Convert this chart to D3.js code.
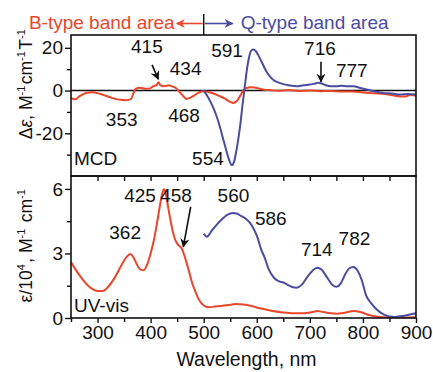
<!DOCTYPE html>
<html>
<head>
<meta charset="utf-8">
<script src="https://cdn.jsdelivr.net/npm/d3@7"></script>
<style>
  html, body { margin: 0; padding: 0; background: #fff; }
  svg text { font-family: "Liberation Sans", Arial, sans-serif; fill: #111; }
</style>
</head>
<body>
<svg id="chart" width="433" height="372"></svg>
<script>
// ---- MCD spectrum (Δε, M^-1 cm^-1 T^-1) ----
const mcdBWl  = [250, 258, 267, 280, 290, 300, 310, 322, 333, 343, 353, 363, 368, 372, 380, 390, 398, 405, 411, 415, 418, 424, 430, 434, 440, 447, 455, 462, 468, 475, 483, 492, 500, 510, 520, 530, 540, 550, 556, 562, 568, 575, 581, 588, 596, 605, 615, 625, 640, 660, 680, 700, 720, 740, 760, 780, 800, 820, 840, 860, 880, 890, 900];
const mcdBVal = [-3.6, -4.1, -2.5, -1.0, -0.8, -1.2, -2.0, -3.0, -3.9, -4.3, -4.5, -4.0, -1.0, 0.8, 1.3, 0.8, 0.9, 2.0, 2.5, 3.9, 2.6, 2.0, 2.2, 2.5, 2.0, 1.3, -0.8, -2.8, -3.9, -3.3, -2.2, -0.8, -0.3, -0.8, -1.5, -2.6, -3.8, -5.3, -5.8, -5.0, -2.8, 0.2, 1.2, 1.6, 1.4, 0.9, 0.4, 0.2, -0.1, 0.2, -0.2, 0.0, -0.3, -0.2, -0.5, -0.4, -0.9, -1.3, -1.6, -2.4, -2.8, -2.0, -2.6];

const mcdQWl  = [500, 508, 518, 525, 531, 537, 543, 548, 553, 557, 561, 565, 569, 573, 577, 581, 585, 589, 593, 598, 604, 610, 618, 625, 632, 640, 650, 660, 675, 688, 700, 710, 716, 722, 730, 740, 750, 760, 770, 782, 795, 807, 820, 838, 855, 870, 885, 900];
const mcdQVal = [0, -3, -8, -12.5, -17.4, -23, -28.4, -32.5, -34.9, -33.5, -29, -23, -16, -7, 1, 9, 15, 18.5, 19.2, 18.5, 16, 13, 9, 6.5, 4.8, 3.8, 3.0, 2.5, 2.0, 2.5, 2.8, 3.3, 3.6, 3.3, 2.5, 2.0, 2.0, 2.3, 2.0, 2.0, 1.2, 0.5, -0.3, -1.1, -1.4, -1.9, -1.6, -1.9];

// ---- UV-vis spectrum (ε/10^4, M^-1 cm^-1) ----
const uvBWl  = [250, 260, 270, 280, 290, 300, 310, 320, 333, 345, 355, 362, 368, 375, 381, 387, 393, 400, 406, 412, 418, 422, 425, 428, 432, 437, 442, 447, 452, 458, 463, 468, 473, 478, 484, 490, 496, 502, 510, 520, 535, 550, 560, 575, 590, 606, 625, 649, 670, 690, 705, 714, 725, 740, 750, 765, 782, 795, 810, 825, 840, 860, 880, 900];
const uvBVal = [2.6, 2.2, 1.85, 1.55, 1.35, 1.25, 1.25, 1.45, 1.9, 2.45, 2.85, 2.98, 2.8, 2.45, 2.25, 2.22, 2.45, 3.0, 3.6, 4.4, 5.3, 5.8, 5.98, 5.85, 5.3, 4.6, 4.0, 3.6, 3.4, 3.25, 2.95, 2.55, 2.1, 1.65, 1.25, 0.9, 0.68, 0.55, 0.5, 0.53, 0.57, 0.62, 0.65, 0.63, 0.56, 0.45, 0.35, 0.26, 0.22, 0.22, 0.28, 0.32, 0.28, 0.22, 0.2, 0.24, 0.32, 0.28, 0.15, 0.07, 0.03, 0.02, 0.02, 0.03];

const uvQWl  = [500, 506, 515, 525, 535, 545, 555, 562, 570, 580, 588, 595, 602, 608, 615, 622, 630, 640, 650, 660, 668, 675, 685, 695, 705, 714, 722, 732, 742, 750, 758, 766, 774, 782, 790, 798, 806, 815, 825, 838, 850, 860, 870, 880, 890, 900];
const uvQVal = [3.92, 3.78, 4.05, 4.35, 4.6, 4.8, 4.88, 4.86, 4.75, 4.6, 4.4, 4.1, 3.7, 3.2, 2.8, 2.3, 1.95, 1.72, 1.65, 1.52, 1.43, 1.41, 1.55, 1.9, 2.2, 2.34, 2.25, 1.9, 1.55, 1.45, 1.6, 2.0, 2.3, 2.37, 2.2, 1.75, 1.05, 0.7, 0.42, 0.18, 0.07, 0.05, 0.08, 0.12, 0.17, 0.22];

// ---- axis ticks ----
const xTickLabels   = [300, 400, 500, 600, 700, 800, 900];
const xTickMinor    = [250, 350, 450, 550, 650, 750, 850];
const mcdTickLabels = [-20, 0, 20];
const mcdTickMinor  = [-30, -10, 10];
const uvTickLabels  = [0, 3, 6];
const uvTickMinor   = [1.5, 4.5];

// ---- peak labels: [text, wavelength, value] ----
const mcdPeakLabels = [["415", 393, 17.4], ["434", 466, 7.3], ["591", 544, 15.8], ["716", 719, 16.6],
                       ["777", 779, 6.5], ["353", 345.5, -16.6], ["468", 463, -14.6], ["554", 508, -34.9]];
const uvPeakLabels  = [["425", 380, 5.38], ["458", 448, 5.39], ["560", 556, 5.41], ["362", 352, 3.68],
                       ["586", 626.5, 4.32], ["714", 713, 2.88], ["782", 784, 3.39]];
// pointer arrows: [fromWl, fromVal, toWl, toVal]
const mcdArrows = [[402.7, 12.0, 414.5, 5.3], [721, 13.5, 721, 4.1]];
const uvArrows  = [[475.5, 5.17, 461.6, 3.31]];

const RED = "#e9472b";
const BLUE = "#4a4c9f";
const FONT = 19;

const svg = d3.select("#chart");

const left = 71, right = 416, topY = 35, midY = 176, botY = 318;

const x = d3.scaleLinear().domain([250, 900]).range([left, right]);
const yMcd = d3.scaleLinear().domain([-40, 26]).range([midY, topY]);
const yUv = d3.scaleLinear().domain([0, 6.6]).range([botY, midY]);

const defs = svg.append("defs");
defs.append("clipPath").attr("id", "clipTop")
  .append("rect").attr("x", left).attr("y", topY).attr("width", right - left).attr("height", midY - topY);
defs.append("clipPath").attr("id", "clipBot")
  .append("rect").attr("x", left).attr("y", midY).attr("width", right - left).attr("height", botY - midY);

function marker(id, color) {
  defs.append("marker").attr("id", id)
    .attr("viewBox", "0 0 10 10").attr("refX", 9).attr("refY", 5)
    .attr("markerWidth", 9).attr("markerHeight", 9).attr("markerUnits", "userSpaceOnUse")
    .attr("orient", "auto")
    .append("path").attr("d", "M0,0 L10,5 L0,10 L3,5 Z").attr("fill", color);
}
marker("headBlack", "#111");
marker("headRed", RED);
marker("headBlue", BLUE);

// zero line in MCD panel
svg.append("line")
  .attr("x1", left).attr("x2", right).attr("y1", yMcd(0)).attr("y2", yMcd(0))
  .attr("stroke", "#111").attr("stroke-width", 1.6);

function drawCurve(wl, val, yScale, color, clip) {
  const pts = wl.map((w, i) => [w, val[i]]);
  svg.append("path")
    .datum(pts)
    .attr("clip-path", `url(#${clip})`)
    .attr("fill", "none")
    .attr("stroke", color)
    .attr("stroke-width", 2)
    .attr("stroke-linejoin", "round")
    .attr("d", d3.line().x(d => x(d[0])).y(d => yScale(d[1])).curve(d3.curveMonotoneX));
}
drawCurve(mcdBWl, mcdBVal, yMcd, RED, "clipTop");
drawCurve(mcdQWl, mcdQVal, yMcd, BLUE, "clipTop");
drawCurve(uvBWl, uvBVal, yUv, RED, "clipBot");
drawCurve(uvQWl, uvQVal, yUv, BLUE, "clipBot");

// panel frames
[[topY, midY], [midY, botY]].forEach(([a, b]) => {
  svg.append("rect").attr("x", left).attr("y", a).attr("width", right - left).attr("height", b - a)
    .attr("fill", "none").attr("stroke", "#111").attr("stroke-width", 1.6);
});

function styleAxis(g) {
  g.select(".domain").remove();
  g.selectAll(".tick line").attr("stroke", "#111").attr("stroke-width", 1.4);
  g.selectAll(".tick text").style("font-size", FONT + "px").attr("fill", "#111");
}

// bottom wavelength axis
svg.append("g").attr("transform", `translate(0,${botY})`)
  .call(d3.axisBottom(x).tickValues(xTickLabels).tickSize(5).tickPadding(3).tickFormat(d => String(d)))
  .call(styleAxis);
svg.append("g").attr("transform", `translate(0,${botY})`)
  .call(d3.axisBottom(x).tickValues(xTickMinor).tickSize(4).tickFormat(""))
  .call(styleAxis);
// ticks hanging from the panel divider
svg.append("g").attr("transform", `translate(0,${midY})`)
  .call(d3.axisBottom(x).tickValues(xTickLabels.concat(xTickMinor).filter(v => v > 250 && v < 900)).tickSize(5).tickFormat(""))
  .call(styleAxis);

// MCD y axis
svg.append("g").attr("transform", `translate(${left},0)`)
  .call(d3.axisLeft(yMcd).tickValues(mcdTickLabels).tickSize(6).tickPadding(2).tickFormat(d => String(d)))
  .call(styleAxis);
svg.append("g").attr("transform", `translate(${left},0)`)
  .call(d3.axisLeft(yMcd).tickValues(mcdTickMinor).tickSize(4).tickFormat(""))
  .call(styleAxis);

// UV-vis y axis
svg.append("g").attr("transform", `translate(${left},0)`)
  .call(d3.axisLeft(yUv).tickValues(uvTickLabels).tickSize(6).tickPadding(2).tickFormat(d => String(d)))
  .call(styleAxis);
svg.append("g").attr("transform", `translate(${left},0)`)
  .call(d3.axisLeft(yUv).tickValues(uvTickMinor).tickSize(4).tickFormat(""))
  .call(styleAxis);

// peak labels
function peakLabels(list, yScale) {
  svg.append("g").selectAll("text").data(list).join("text")
    .attr("x", d => x(d[1])).attr("y", d => yScale(d[2]))
    .attr("text-anchor", "middle").style("font-size", FONT + "px")
    .text(d => d[0]);
}
peakLabels(mcdPeakLabels, yMcd);
peakLabels(uvPeakLabels, yUv);

function arrows(list, yScale) {
  svg.append("g").selectAll("line").data(list).join("line")
    .attr("x1", d => x(d[0])).attr("y1", d => yScale(d[1]))
    .attr("x2", d => x(d[2])).attr("y2", d => yScale(d[3]))
    .attr("stroke", "#111").attr("stroke-width", 1.6)
    .attr("marker-end", "url(#headBlack)");
}
arrows(mcdArrows, yMcd);
arrows(uvArrows, yUv);

// panel names
svg.append("text").attr("x", x(255.7)).attr("y", yMcd(-34.9)).style("font-size", FONT + "px").text("MCD");
svg.append("text").attr("x", x(255.7)).attr("y", yUv(0.29)).style("font-size", FONT + "px").text("UV-vis");

// band-area header
const divX = x(500);
svg.append("line").attr("x1", divX).attr("x2", divX).attr("y1", 14).attr("y2", topY)
  .attr("stroke", "#111").attr("stroke-width", 1.4);
svg.append("line").attr("x1", divX - 1).attr("x2", divX - 27).attr("y1", 23.5).attr("y2", 23.5)
  .attr("stroke", RED).attr("stroke-width", 1.6).attr("marker-end", "url(#headRed)");
svg.append("line").attr("x1", divX + 1).attr("x2", divX + 29).attr("y1", 23.5).attr("y2", 23.5)
  .attr("stroke", BLUE).attr("stroke-width", 1.6).attr("marker-end", "url(#headBlue)");
svg.append("text").attr("x", divX - 29).attr("y", 29).attr("text-anchor", "end")
  .style("font-size", FONT + "px").style("fill", RED).text("B-type band area");
svg.append("text").attr("x", divX + 37).attr("y", 29).attr("text-anchor", "start")
  .style("font-size", FONT + "px").style("fill", BLUE).text("Q-type band area");

// axis titles
svg.append("text").attr("x", (left + right) / 2 + 3).attr("y", 366).attr("text-anchor", "middle")
  .style("font-size", "19.5px").text("Wavelength, nm");

function supText(sel, parts) {
  parts.forEach(([t, sup]) => {
    if (sup) {
      sel.append("tspan").attr("dy", -7).style("font-size", "11px").text(t);
      sel.append("tspan").attr("dy", 7).text("\u200A");
    } else {
      sel.append("tspan").text(t);
    }
  });
}
const yt1 = svg.append("text").attr("transform", `translate(31.5,${yMcd(3.3)}) rotate(-90)`)
  .attr("text-anchor", "middle").style("font-size", "17.5px");
supText(yt1, [["Δ"], ["ε"], [", M"], ["-1", true], ["cm"], ["-1", true], ["T"], ["-1", true]]);
yt1.selectAll("tspan").filter(function () { return this.textContent === "ε"; }).style("font-style", "italic");

const yt2 = svg.append("text").attr("transform", `translate(31.5,${yUv(3.39)}) rotate(-90)`)
  .attr("text-anchor", "middle").style("font-size", "17.5px");
supText(yt2, [["ε/10"], ["4", true], [", M"], ["-1", true], [" cm"], ["-1", true]]);
</script>
</body>
</html>
